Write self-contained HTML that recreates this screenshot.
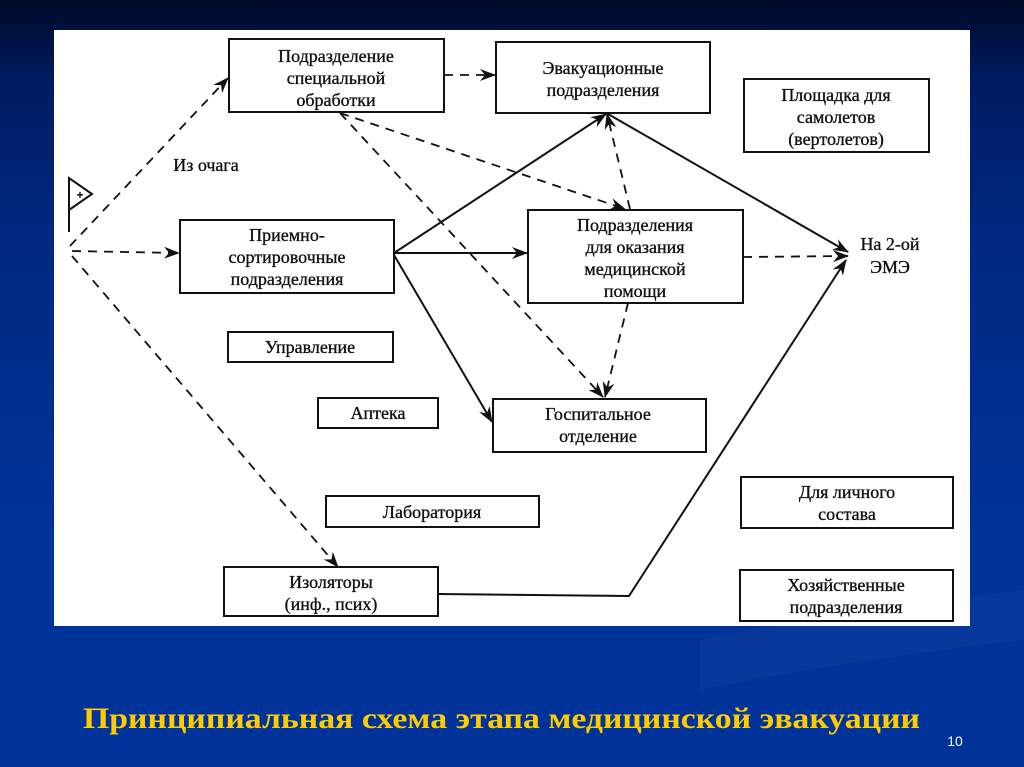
<!DOCTYPE html>
<html><head><meta charset="utf-8"><style>
html,body{margin:0;padding:0;width:1024px;height:767px;overflow:hidden}
body{background:linear-gradient(180deg,#000a28 0%,#001a60 10%,#00287f 30%,#003399 70%,#003399 100%);position:relative;font-family:"Liberation Serif",serif}
svg{position:absolute;left:0;top:0}
.t{font-family:"Liberation Serif",serif;font-size:18px;fill:#111;stroke:#111;stroke-width:0.35;text-anchor:middle}
</style></head><body>
<svg width="1024" height="767" viewBox="0 0 1024 767">
<defs>
<marker id="a" viewBox="0 0 16 12" refX="15" refY="6" markerWidth="16" markerHeight="12" markerUnits="userSpaceOnUse" orient="auto"><path d="M0,0 L16,6 L0,12 L5,6 Z" fill="#111"/></marker>
</defs>
<path d="M700,640 Q850,610 1024,590 L1024,640 Q850,660 700,690Z" fill="#1a46a8" opacity="0.25"/>
<rect x="54" y="30" width="916" height="596" fill="#fff"/>
<g fill="none" stroke="#111" stroke-width="2">
<rect x="229" y="39" width="215" height="73"/>
<rect x="496" y="42" width="214" height="71"/>
<rect x="744" y="79" width="185" height="73"/>
<rect x="180" y="220" width="214" height="73"/>
<rect x="528" y="210" width="215" height="93"/>
<rect x="228" y="332" width="165" height="30"/>
<rect x="318" y="398" width="120" height="30"/>
<rect x="493" y="399" width="213" height="53"/>
<rect x="326" y="496" width="213" height="31"/>
<rect x="741" y="477" width="212" height="51"/>
<rect x="224" y="567" width="214" height="49"/>
<rect x="740" y="570" width="213" height="51"/>
</g>
<g fill="none" stroke="#111" stroke-width="1.8" stroke-dasharray="9,7">
<line x1="70" y1="246" x2="228" y2="78" marker-end="url(#a)"/>
<line x1="72" y1="251" x2="179" y2="253" marker-end="url(#a)"/>
<line x1="72" y1="256" x2="338" y2="567" marker-end="url(#a)"/>
<line x1="444" y1="75" x2="495" y2="75" marker-end="url(#a)"/>
<line x1="340" y1="113" x2="625" y2="209" marker-end="url(#a)"/>
<line x1="340" y1="113" x2="603" y2="397" marker-end="url(#a)"/>
<line x1="630" y1="209" x2="607" y2="114" marker-end="url(#a)"/>
<line x1="628" y1="303" x2="605" y2="397" marker-end="url(#a)"/>
<line x1="743" y1="257" x2="848" y2="256" marker-end="url(#a)"/>
</g>
<g fill="none" stroke="#111" stroke-width="2">
<line x1="394" y1="253" x2="606" y2="114" marker-end="url(#a)"/>
<line x1="394" y1="253" x2="527" y2="253" marker-end="url(#a)"/>
<line x1="394" y1="255" x2="492" y2="422" marker-end="url(#a)"/>
<line x1="608" y1="114" x2="848" y2="252" marker-end="url(#a)"/>
<polyline points="438,594 629,596 846,260" marker-end="url(#a)"/>
<polyline points="69,232 69,178 92,194 69,210"/>
</g>
<text x="80" y="199" font-size="12" font-weight="bold" text-anchor="middle" font-family="Liberation Sans">+</text>
<g>
<text class="t" x="336" y="62">Подразделение</text>
<text class="t" x="336" y="84">специальной</text>
<text class="t" x="336" y="106">обработки</text>
<text class="t" x="603" y="74">Эвакуационные</text>
<text class="t" x="603" y="96">подразделения</text>
<text class="t" x="836" y="101">Площадка для</text>
<text class="t" x="836" y="123">самолетов</text>
<text class="t" x="836" y="145">(вертолетов)</text>
<text class="t" x="287" y="241">Приемно-</text>
<text class="t" x="287" y="263">сортировочные</text>
<text class="t" x="287" y="285">подразделения</text>
<text class="t" x="635" y="231">Подразделения</text>
<text class="t" x="635" y="253">для оказания</text>
<text class="t" x="635" y="275">медицинской</text>
<text class="t" x="635" y="297">помощи</text>
<text class="t" x="310" y="353">Управление</text>
<text class="t" x="378" y="419">Аптека</text>
<text class="t" x="598" y="420">Госпитальное</text>
<text class="t" x="598" y="442">отделение</text>
<text class="t" x="432" y="518">Лаборатория</text>
<text class="t" x="847" y="498">Для личного</text>
<text class="t" x="847" y="520">состава</text>
<text class="t" x="331" y="588">Изоляторы</text>
<text class="t" x="331" y="610">(инф., псих)</text>
<text class="t" x="846" y="591">Хозяйственные</text>
<text class="t" x="846" y="613">подразделения</text>
<text class="t" x="890" y="250">На 2-ой</text>
<text class="t" x="890" y="273">ЭМЭ</text>
<text class="t" x="206" y="171">Из очага</text>
</g>
<text x="83" y="728" font-family="Liberation Serif,serif" font-size="30" font-weight="bold" fill="#ffcc00" textLength="837" lengthAdjust="spacingAndGlyphs">Принципиальная схема этапа медицинской эвакуации</text>
<text x="955" y="746" font-family="Liberation Sans,sans-serif" font-size="14" fill="#fff" text-anchor="middle">10</text>
</svg>
</body></html>
